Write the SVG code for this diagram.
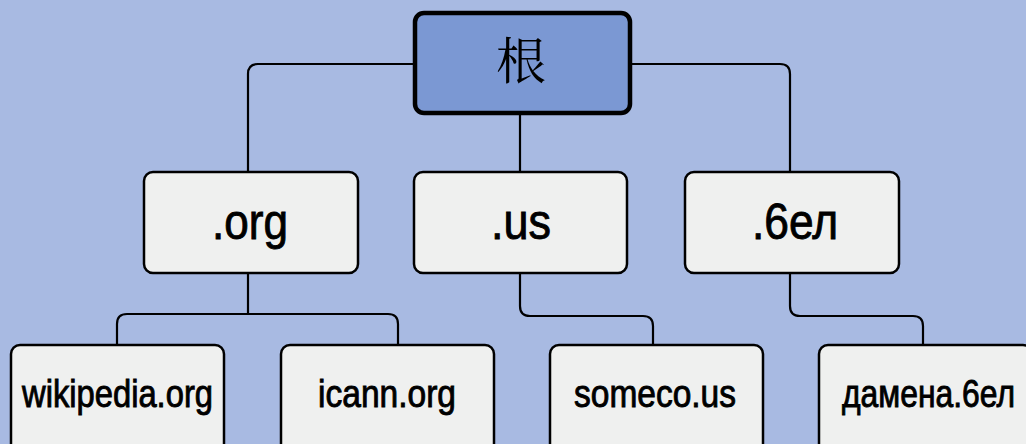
<svg xmlns="http://www.w3.org/2000/svg" width="1026" height="444" viewBox="0 0 1026 444">
<style>
.bg{fill:#a8bae2}
.node{fill:#eff0ef;stroke:#000;stroke-width:2.5}
.root{fill:#7b98d3;stroke:#000;stroke-width:4.5}
.conn{fill:none;stroke:#000;stroke-width:2.2}
.t{font-family:"Liberation Sans",Arial,sans-serif;fill:#000;stroke:#000;stroke-width:0.9;text-anchor:middle}
.l2{font-size:50px}
.l3{font-size:38px}
.cjk{font-family:"Noto Serif CJK SC","Noto Sans CJK SC",serif;font-size:50px;text-anchor:middle;fill:#000}
</style>
<rect class="bg" x="0" y="0" width="1026" height="444"/>
<g id="connectors">
<path class="conn" d="M414 64 H258 Q248 64 248 74 V171"/>
<path class="conn" d="M631 64 H780 Q790 64 790 74 V171"/>
<path class="conn" d="M520 115 V171"/>
<path class="conn" d="M248 273 V314"/>
<path class="conn" d="M117 344 V324 Q117 314 127 314 H388 Q398 314 398 324 V344"/>
<path class="conn" d="M520 273 V306 Q520 316 530 316 H643 Q653 316 653 326 V344"/>
<path class="conn" d="M790 273 V306 Q790 316 800 316 H913 Q923 316 923 326 V344"/>
</g>
<g id="root">
<rect class="root" x="415" y="13" width="215" height="100" rx="9"/>
<text class="cjk" x="521" y="79">根</text>
</g>
<g id="org">
<rect class="node" x="144" y="172" width="214" height="101" rx="9"/>
<text class="t l2" x="250" y="239" textLength="76" lengthAdjust="spacingAndGlyphs">.org</text>
</g>
<g id="us">
<rect class="node" x="414" y="172" width="213" height="101" rx="9"/>
<text class="t l2" x="521" y="239" textLength="60" lengthAdjust="spacingAndGlyphs">.us</text>
</g>
<g id="bel">
<rect class="node" x="685" y="172" width="214" height="101" rx="9"/>
<text class="t l2" x="795" y="239" textLength="86" lengthAdjust="spacingAndGlyphs">.6ел</text>
</g>
<g id="wikipedia">
<rect class="node" x="11" y="345" width="213" height="110" rx="9"/>
<text class="t l3" x="117.500" y="407" textLength="191" lengthAdjust="spacingAndGlyphs">wikipedia.org</text>
</g>
<g id="icann">
<rect class="node" x="281" y="345" width="213" height="110" rx="9"/>
<text class="t l3" x="387" y="407" textLength="138" lengthAdjust="spacingAndGlyphs">icann.org</text>
</g>
<g id="someco">
<rect class="node" x="550" y="345" width="213" height="110" rx="9"/>
<text class="t l3" x="655" y="407" textLength="162" lengthAdjust="spacingAndGlyphs">someco.us</text>
</g>
<g id="damena">
<rect class="node" x="819" y="345" width="213" height="110" rx="9"/>
<text class="t l3" x="928.500" y="407" font-size="35" textLength="173" lengthAdjust="spacingAndGlyphs">дамена.6ел</text>
</g>
</svg>
